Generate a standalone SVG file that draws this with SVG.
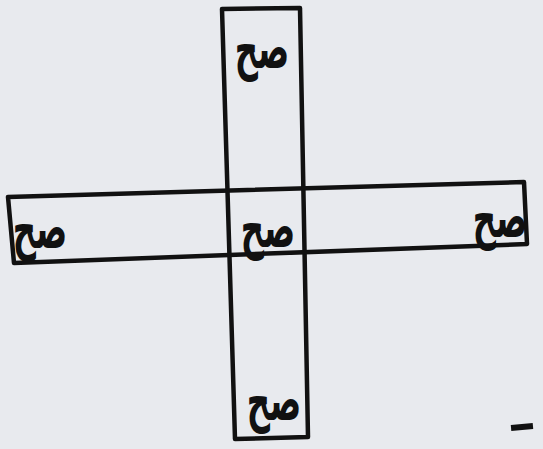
<svg xmlns="http://www.w3.org/2000/svg" width="543" height="449" viewBox="0 0 543 449">
<style>
.box{fill:none;stroke:#111;stroke-width:4.5;stroke-linejoin:round}
.t{font-family:"DejaVu Sans",sans-serif;font-size:38px;font-weight:bold;fill:#111;text-anchor:middle}
</style>
<rect width="543" height="449" fill="#e8eaee"/>
<g id="connectors"/>
<g id="vertical-bar">
<polygon class="box" points="222,9 300,8 308,437 235,439"/>
</g>
<g id="horizontal-bar">
<polygon class="box" points="8,197 524,182 527,244 14,263"/>
</g>
<g id="top"><text class="t" direction="rtl" transform="translate(262,68) scale(0.85,1.5)">صح</text></g>
<g id="left"><text class="t" direction="rtl" transform="translate(40,248) scale(0.85,1.5)">صح</text></g>
<g id="center"><text class="t" direction="rtl" transform="translate(268,247) scale(0.85,1.5)">صح</text></g>
<g id="right"><text class="t" direction="rtl" transform="translate(500,237) scale(0.85,1.5)">صح</text></g>
<g id="bottom"><text class="t" direction="rtl" transform="translate(274,420) scale(0.85,1.5)">صح</text></g>
<g id="mark"><rect x="511" y="424" width="22" height="6" fill="#111" transform="rotate(-5 522 427)"/></g>
</svg>
